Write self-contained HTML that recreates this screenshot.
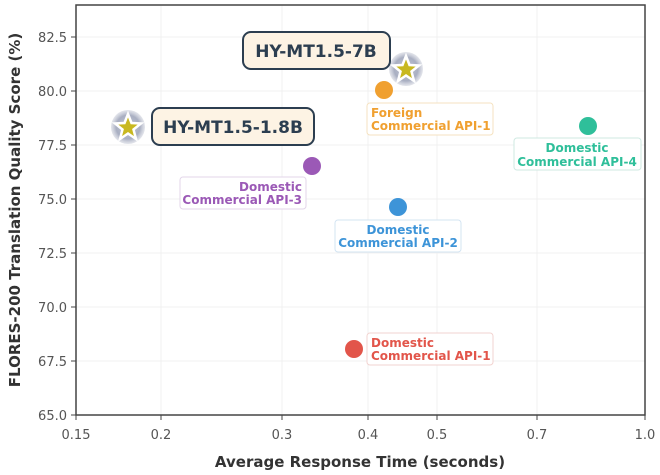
<!DOCTYPE html>
<html><head><meta charset="utf-8"><style>
body{margin:0;background:#fff;}
svg{display:block;font-family:"DejaVu Sans","Liberation Sans",sans-serif;}
</style></head><body>
<svg width="660" height="475" viewBox="0 0 660 475" xmlns="http://www.w3.org/2000/svg">
<defs>
<radialGradient id="halo"><stop offset="0" stop-color="#c4c8d6"/><stop offset="0.7" stop-color="#a9afc2"/><stop offset="1" stop-color="#c8ccd8" stop-opacity="0.5"/></radialGradient>
</defs>
<rect width="660" height="475" fill="#fff"/>
<g stroke="#f0f0f0" stroke-width="1">
<line x1="161" y1="5" x2="161" y2="415"/><line x1="282" y1="5" x2="282" y2="415"/>
<line x1="368" y1="5" x2="368" y2="415"/><line x1="437" y1="5" x2="437" y2="415"/>
<line x1="537" y1="5" x2="537" y2="415"/>
<line x1="76" y1="37" x2="645" y2="37"/><line x1="76" y1="91" x2="645" y2="91"/>
<line x1="76" y1="145" x2="645" y2="145"/><line x1="76" y1="199" x2="645" y2="199"/>
<line x1="76" y1="253" x2="645" y2="253"/><line x1="76" y1="307" x2="645" y2="307"/>
<line x1="76" y1="361" x2="645" y2="361"/>
</g>
<rect x="76" y="5" width="569" height="410" fill="none" stroke="#444" stroke-width="1.5"/>
<g stroke="#444" stroke-width="1">
<line x1="71" y1="37" x2="76" y2="37"/><line x1="71" y1="91" x2="76" y2="91"/><line x1="71" y1="145" x2="76" y2="145"/>
<line x1="71" y1="199" x2="76" y2="199"/><line x1="71" y1="253" x2="76" y2="253"/><line x1="71" y1="307" x2="76" y2="307"/>
<line x1="71" y1="361" x2="76" y2="361"/><line x1="71" y1="415" x2="76" y2="415"/>
<line x1="76" y1="415" x2="76" y2="420"/><line x1="161" y1="415" x2="161" y2="420"/><line x1="282" y1="415" x2="282" y2="420"/>
<line x1="368" y1="415" x2="368" y2="420"/><line x1="437" y1="415" x2="437" y2="420"/><line x1="537" y1="415" x2="537" y2="420"/>
<line x1="645" y1="415" x2="645" y2="420"/>
</g>
<g font-size="13" fill="#555" text-anchor="end">
<text x="67" y="42">82.5</text><text x="67" y="96">80.0</text><text x="67" y="150">77.5</text>
<text x="67" y="204">75.0</text><text x="67" y="258">72.5</text><text x="67" y="312">70.0</text>
<text x="67" y="366">67.5</text><text x="67" y="420">65.0</text>
</g>
<g font-size="13" fill="#555" text-anchor="middle">
<text x="76" y="439">0.15</text><text x="161" y="439">0.2</text><text x="282" y="439">0.3</text>
<text x="368" y="439">0.4</text><text x="437" y="439">0.5</text><text x="537" y="439">0.7</text><text x="645" y="439">1.0</text>
</g>
<text x="360" y="467" font-size="15" font-weight="bold" fill="#333" text-anchor="middle">Average Response Time (seconds)</text>
<text transform="translate(20,210) rotate(-90)" font-size="15" font-weight="bold" fill="#333" text-anchor="middle">FLORES-200 Translation Quality Score (%)</text>
<circle cx="384" cy="90" r="9" fill="#f0a030"/>
<circle cx="588" cy="126" r="9" fill="#2fbf9a"/>
<circle cx="312" cy="166" r="9" fill="#9b59b6"/>
<circle cx="398" cy="207" r="9" fill="#3d94d8"/>
<circle cx="354" cy="349" r="9" fill="#e2554a"/>
<circle cx="406" cy="69" r="17" fill="url(#halo)"/>
<polygon points="406,56 409.5,65 419,65.5 411.5,71.5 414,81 406,75.5 398,81 400.5,71.5 393,65.5 402.5,65" fill="#c8b820" stroke="#fff" stroke-width="2.5"/>
<circle cx="128" cy="127" r="17" fill="url(#halo)"/>
<polygon points="128,114 131.5,123 141,123.5 133.5,129.5 136,139 128,133.5 120,139 122.5,129.5 115,123.5 124.5,123" fill="#c8b820" stroke="#fff" stroke-width="2.5"/>
<rect x="243" y="32" width="147" height="37" rx="8" fill="#fdf3e4" stroke="#2c3e50" stroke-width="2"/>
<text x="316" y="57" font-size="17" font-weight="bold" fill="#2c3e50" text-anchor="middle">HY-MT1.5-7B</text>
<rect x="152" y="108" width="162" height="37" rx="8" fill="#fdf3e4" stroke="#2c3e50" stroke-width="2"/>
<text x="233" y="133" font-size="17" font-weight="bold" fill="#2c3e50" text-anchor="middle">HY-MT1.5-1.8B</text>
<g font-size="12" font-weight="bold">
<rect x="367" y="103" width="126" height="32" rx="3" fill="#fff" stroke="#f5e2c0"/>
<text x="371" y="117" fill="#f0a030">Foreign</text><text x="371" y="130" fill="#f0a030">Commercial API-1</text>
<rect x="514" y="138" width="127" height="32" rx="3" fill="#fff" stroke="#cfe9e2"/>
<text x="577" y="152" fill="#2fbf9a" text-anchor="middle">Domestic</text><text x="577" y="166" fill="#2fbf9a" text-anchor="middle">Commercial API-4</text>
<rect x="180" y="177" width="126" height="32" rx="3" fill="#fff" stroke="#e3d6ea"/>
<text x="302" y="191" fill="#9b59b6" text-anchor="end">Domestic</text><text x="302" y="204" fill="#9b59b6" text-anchor="end">Commercial API-3</text>
<rect x="335" y="220" width="126" height="32" rx="3" fill="#fff" stroke="#d3e4f2"/>
<text x="398" y="234" fill="#3d94d8" text-anchor="middle">Domestic</text><text x="398" y="247" fill="#3d94d8" text-anchor="middle">Commercial API-2</text>
<rect x="367" y="333" width="126" height="32" rx="3" fill="#fff" stroke="#f2d3d0"/>
<text x="371" y="347" fill="#e2554a">Domestic</text><text x="371" y="360" fill="#e2554a">Commercial API-1</text>
</g>
</svg>
</body></html>
